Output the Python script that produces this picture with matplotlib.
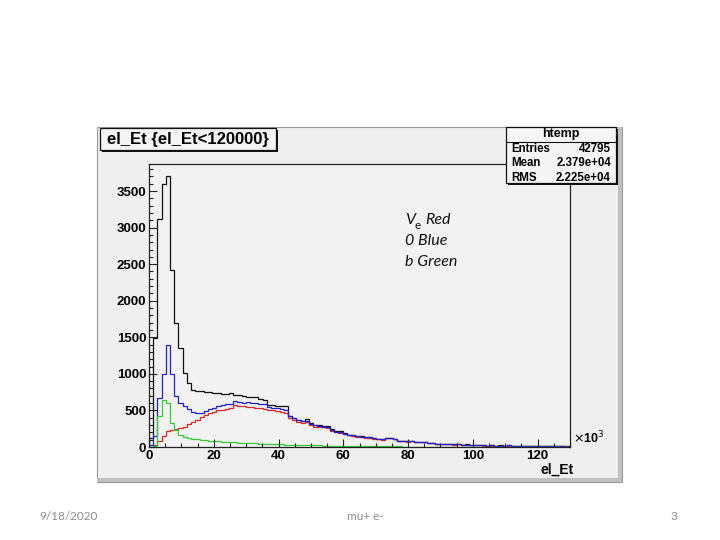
import matplotlib
matplotlib.use("Agg")
import matplotlib.pyplot as plt
import numpy as np
from matplotlib.lines import Line2D
from matplotlib.patches import Rectangle
from matplotlib.ticker import MultipleLocator

# el_Et histogram, 100 bins over 0..130 (x10^3)
x_lo, x_hi, n_bins = 0, 130, 100

all_counts = [
    120, 1490, 3120, 3600, 3700, 2420, 1690, 1350, 1010, 870,
    780, 770, 760, 755, 750, 740, 735, 730, 725, 735,
    715, 705, 700, 690, 690, 680, 660, 640, 580, 575,
    565, 560, 555, 430, 400, 370, 360, 380, 330, 300,
    300, 290, 290, 240, 215, 215, 190, 170, 165, 150,
    145, 140, 140, 125, 115, 105, 120, 125, 115, 85,
    80, 80, 85, 75, 70, 70, 60, 50, 45, 40,
    45, 40, 35, 45, 30, 35, 30, 25, 30, 25,
    20, 25, 20, 22, 18, 25, 15, 20, 18, 15,
    20, 12, 15, 18, 10, 15, 12, 10, 12, 8,
]
blue_counts = [
    30, 150, 670, 1000, 1395, 1000, 700, 600, 560, 520,
    480, 465, 470, 495, 515, 535, 555, 570, 585, 590,
    625, 610, 605, 610, 600, 595, 590, 585, 545, 540,
    530, 520, 510, 420, 400, 370, 350, 360, 320, 295,
    290, 280, 280, 235, 210, 205, 180, 165, 160, 145,
    140, 135, 135, 120, 115, 105, 125, 125, 110, 85,
    80, 78, 80, 72, 68, 65, 58, 50, 42, 40,
    42, 38, 35, 40, 30, 32, 28, 25, 28, 22,
    20, 22, 18, 20, 16, 22, 14, 18, 16, 14,
    16, 10, 14, 15, 10, 12, 10, 8, 10, 6,
]
red_counts = [
    5, 30, 80, 150, 220, 235, 245, 255, 278, 310,
    346, 369, 406, 438, 461, 483, 500, 510, 525, 530,
    575, 560, 555, 550, 545, 540, 535, 520, 505, 500,
    490, 480, 470, 390, 370, 345, 335, 340, 305, 280,
    275, 268, 262, 220, 200, 195, 175, 158, 152, 138,
    132, 128, 128, 115, 108, 100, 118, 120, 105, 80,
    76, 75, 78, 70, 65, 62, 55, 48, 40, 38,
    40, 36, 33, 38, 28, 30, 26, 22, 26, 20,
    18, 20, 16, 18, 14, 20, 12, 16, 14, 12,
    14, 9, 12, 13, 8, 10, 9, 7, 9, 5,
]
green_counts = [
    0, 20, 420, 640, 600, 330, 230, 160, 140, 125,
    115, 105, 98, 92, 88, 82, 78, 74, 70, 66,
    62, 60, 57, 55, 52, 50, 47, 45, 42, 40,
    38, 36, 34, 32, 30, 28, 27, 25, 24, 22,
    21, 20, 19, 18, 17, 16, 15, 14, 13, 12,
    12, 11, 10, 10, 9, 9, 8, 8, 7, 7,
    6, 6, 6, 5, 5, 5, 4, 4, 4, 4,
    3, 3, 3, 3, 3, 2, 2, 2, 2, 2,
    2, 2, 2, 1, 1, 1, 1, 1, 1, 1,
    1, 1, 1, 1, 1, 0, 0, 0, 0, 0,
]

x_ticks = [0, 20, 40, 60, 80, 100, 120]
y_ticks = [0, 500, 1000, 1500, 2000, 2500, 3000, 3500]

stats_rows = [("Entries", "42795"), ("Mean", "2.379e+04"), ("RMS", "2.225e+04")]
legend_rows = ["0 Blue", "b Green"]
footer_date, footer_mid, footer_page = "9/18/2020", "mu+ e-", "3"

W, H = 720, 540
ROOT_FONT = "Liberation Sans"
SLIDE_FONT = "Lato"


def fx(x):
    return x / W


def fy(y):
    return 1 - y / H


def box(fig, x0, y0, x1, y1, z=-5, **kw):
    r = Rectangle((fx(x0), fy(y1)), (x1 - x0) / W, (y1 - y0) / H,
                  transform=fig.transFigure, figure=fig, zorder=z, **kw)
    fig.patches.append(r)
    return r


def hline(fig, x0, x1, y, z=6, **kw):
    fig.lines.append(Line2D([fx(x0), fx(x1)], [fy(y), fy(y)],
                            transform=fig.transFigure, figure=fig, zorder=z, **kw))


fig = plt.figure(figsize=(7.2, 5.4), dpi=100)
fig.patch.set_facecolor("white")

# ROOT canvas with bevel
box(fig, 97, 127, 622, 482, facecolor="#efefef", edgecolor="#9a9a9a", linewidth=0.8)
box(fig, 618, 127, 622, 482, facecolor="#c0c0c0", edgecolor="none", z=-4)
box(fig, 97, 478, 622, 482, facecolor="#c0c0c0", edgecolor="none", z=-4)

ax = fig.add_axes([fx(149), fy(447), (570 - 149) / W, (447 - 164) / H])
ax.set_facecolor("#f2f2f2")

edges = np.linspace(x_lo, x_hi, n_bins + 1)
ax.stairs(all_counts, edges, color="#111111", linewidth=0.9)
ax.stairs(red_counts, edges, color="#e02424", linewidth=0.9)
ax.stairs(blue_counts, edges, color="#2020d0", linewidth=0.9)
ax.stairs(green_counts, edges, color="#34cc34", linewidth=0.9)

ax.set_xlim(x_lo, x_hi)
ax.set_ylim(0, 3870)
ax.set_xticks(x_ticks)
ax.set_yticks(y_ticks)
ax.xaxis.set_minor_locator(MultipleLocator(5))
ax.yaxis.set_minor_locator(MultipleLocator(100))
ax.tick_params(which="both", direction="in", top=False, right=False, color="#222222")
ax.tick_params(which="major", length=6, width=0.8)
ax.tick_params(which="minor", length=3, width=0.8)
ax.tick_params(axis="y", pad=2)
ax.tick_params(axis="x", pad=2)
for lab in ax.get_xticklabels() + ax.get_yticklabels():
    lab.set_fontfamily(ROOT_FONT)
    lab.set_fontweight("bold")
    lab.set_fontsize(9.5)
for sp in ax.spines.values():
    sp.set_color("#222222")
    sp.set_linewidth(0.9)

fig.text(fx(573), fy(446), r"$\times$10$^{3}$", fontsize=9, family=ROOT_FONT,
         fontweight="bold", ha="left", va="bottom")
fig.text(fx(574), fy(470), "el_Et", fontsize=10, family=ROOT_FONT,
         fontweight="bold", ha="right", va="center")

# title pave
box(fig, 102, 130, 278, 152, facecolor="#111111", edgecolor="none", z=4)
box(fig, 100, 128, 276, 150, facecolor="#f4f4f4", edgecolor="#111111", linewidth=0.9, z=5)
fig.text(fx(188), fy(139.5), "el_Et {el_Et<120000}", fontsize=12, family=ROOT_FONT,
         fontweight="bold", ha="center", va="center", zorder=6)

# stats pave
box(fig, 508, 129, 618, 185, facecolor="#111111", edgecolor="none", z=4)
box(fig, 506, 127, 616, 183, facecolor="#f5f5f5", edgecolor="#111111", linewidth=0.9, z=5)
hline(fig, 506, 616, 141.5, color="#111111", linewidth=0.8)
fig.text(fx(561), fy(134), "htemp", fontsize=9, family=ROOT_FONT, fontweight="bold",
         ha="center", va="center", zorder=6)
for i, (name, val) in enumerate(stats_rows):
    yy = 149 + i * 14.5
    fig.text(fx(511), fy(yy), name, fontsize=8.3, family=ROOT_FONT, fontweight="bold",
             ha="left", va="center", zorder=6)
    fig.text(fx(611), fy(yy), val, fontsize=8.3, family=ROOT_FONT, fontweight="bold",
             ha="right", va="center", zorder=6)

# hand-written legend
leg_kw = dict(family=SLIDE_FONT, color="#111111", va="baseline", zorder=6)
fig.text(fx(405), fy(224), "V", fontsize=11.5, style="italic", **leg_kw)
fig.text(fx(415), fy(229), "e", fontsize=8.5, **leg_kw)
fig.text(fx(425), fy(224), "Red", fontsize=11.5, style="italic", **leg_kw)
for i, row in enumerate(legend_rows):
    fig.text(fx(405), fy(245 + i * 21), row, fontsize=11.5, style="italic", **leg_kw)

# slide footer
foot_kw = dict(family=SLIDE_FONT, fontsize=8.5, color="#8c8c8c", va="center")
fig.text(fx(69), fy(516), footer_date, ha="center", **foot_kw)
fig.text(fx(365), fy(516), footer_mid, ha="center", **foot_kw)
fig.text(fx(674), fy(516), footer_page, ha="center", **foot_kw)

fig.savefig("out.png", dpi=100, facecolor="white")
